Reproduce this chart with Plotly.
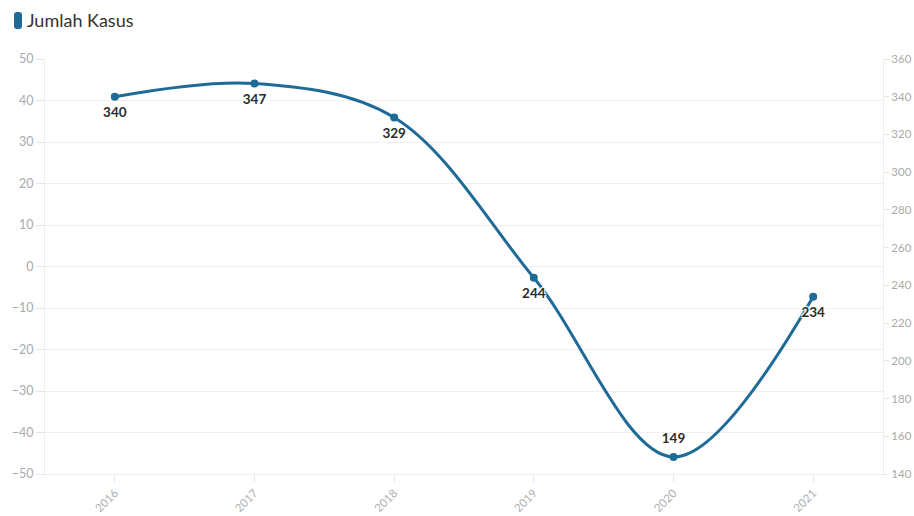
import plotly.graph_objects as go

years = ["2016", "2017", "2018", "2019", "2020", "2021"]
cases = [340, 347, 329, 244, 149, 234]
label_pos = ["bottom center", "bottom center", "bottom center", "bottom center", "top center", "bottom center"]
left_ticks = list(range(-50, 51, 10))
right_ticks = list(range(140, 361, 20))

LINE = "#1f6b98"
FONT = "Lato"
W, H = 914, 516
L, R, T, B = 45, 31, 59, 42

fig = go.Figure()
# invisible trace to anchor the left axis
fig.add_trace(go.Scatter(x=years, y=[None] * len(years), yaxis="y", showlegend=False,
                         hoverinfo="skip", mode="lines"))
fig.add_trace(go.Scatter(
    x=years, y=cases, yaxis="y2", name="Jumlah Kasus",
    mode="lines+markers",
    line=dict(color=LINE, width=3, shape="spline", smoothing=1),
    marker=dict(color=LINE, size=8),
    showlegend=False, cliponaxis=False, hoverinfo="skip",
))
# value labels (invisible larger markers give a bit more offset)
fig.add_trace(go.Scatter(
    x=years, y=cases, yaxis="y2", mode="markers+text",
    marker=dict(size=15, opacity=0),
    text=[str(v) for v in cases], textposition=label_pos,
    textfont=dict(family=FONT, size=13.5, color="#2b2b2b", weight="bold",
                  shadow="1px 1px 1px #fff, -1px -1px 1px #fff, 1px -1px 1px #fff, -1px 1px 1px #fff"),
    showlegend=False, cliponaxis=False,
))

axis_common = dict(
    linecolor="#eeeeee", showline=True, zeroline=False,
    ticks="outside", tickcolor="#e6e6e6", automargin=False,
)
yfont = dict(family=FONT, size=12.5, color="#aaaaaa")
fig.update_layout(
    width=W, height=H,
    margin=dict(l=L, r=R, t=T, b=B, autoexpand=False),
    paper_bgcolor="white", plot_bgcolor="white",
    font=dict(family=FONT),
    xaxis=dict(type="category", range=[-0.5, 5.5], tickangle=-45, showgrid=False,
               ticklen=7, tickfont=dict(family=FONT, size=11.5, color="#b0b0b0"),
               **axis_common),
    yaxis=dict(range=[-50, 50], tickvals=left_ticks, showgrid=True, gridcolor="#f0f0f0",
               side="left", ticklen=8, tickfont=yfont, **axis_common),
    yaxis2=dict(range=[140, 360], tickvals=right_ticks, overlaying="y", side="right",
                showgrid=False, ticklen=5, tickfont=dict(family=FONT, size=11.5, color="#aaaaaa"),
                **axis_common),
    showlegend=False,
)

# legend-like marker and label
pw = W - L - R
ph = H - T - B
def px(x):
    return (x - L) / pw
def py(y):
    return (H - B - y) / ph

x0, x1, y0, y1, r = 14, 22, 12, 29, 3
path = (f"M {px(x0+r)},{py(y0)} L {px(x1-r)},{py(y0)} Q {px(x1)},{py(y0)} {px(x1)},{py(y0+r)} "
        f"L {px(x1)},{py(y1-r)} Q {px(x1)},{py(y1)} {px(x1-r)},{py(y1)} "
        f"L {px(x0+r)},{py(y1)} Q {px(x0)},{py(y1)} {px(x0)},{py(y1-r)} "
        f"L {px(x0)},{py(y0+r)} Q {px(x0)},{py(y0)} {px(x0+r)},{py(y0)} Z")
fig.add_shape(type="path", xref="paper", yref="paper", path=path,
              fillcolor=LINE, line=dict(width=0))
fig.add_annotation(xref="paper", yref="paper", x=px(25), y=py(20), xanchor="left",
                   yanchor="middle", text="Jumlah Kasus", showarrow=False,
                   font=dict(family=FONT, size=18, color="#333333"))

fig.write_html("out.html")
